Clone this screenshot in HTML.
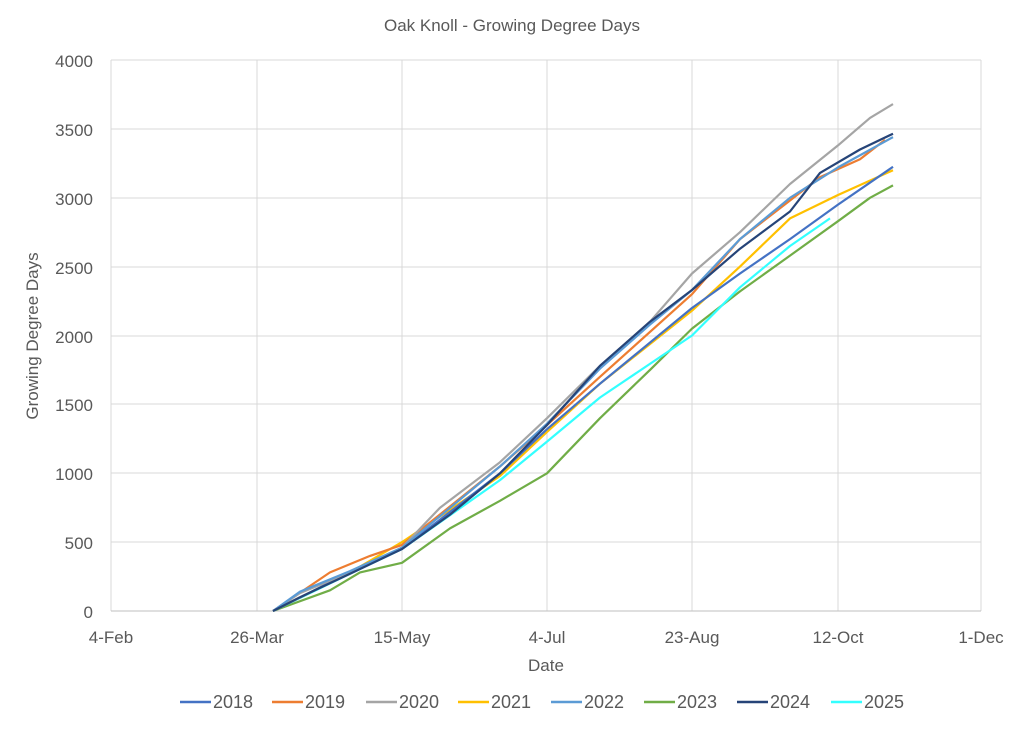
<!DOCTYPE html>
<html><head><meta charset="utf-8"><style>body{margin:0;background:#fff}</style></head>
<body>
<svg width="1024" height="743" xmlns="http://www.w3.org/2000/svg" font-family="Liberation Sans, sans-serif">
<rect width="1024" height="743" fill="#fff"/>
<text x="512" y="31" text-anchor="middle" font-size="17" fill="#595959">Oak Knoll - Growing Degree Days</text>
<g stroke="#d9d9d9" stroke-width="1">
<line x1="111" y1="60" x2="981" y2="60"/><line x1="111" y1="129" x2="981" y2="129"/>
<line x1="111" y1="198" x2="981" y2="198"/><line x1="111" y1="267" x2="981" y2="267"/>
<line x1="111" y1="336" x2="981" y2="336"/><line x1="111" y1="404" x2="981" y2="404"/>
<line x1="111" y1="473" x2="981" y2="473"/><line x1="111" y1="542" x2="981" y2="542"/>
<line x1="111" y1="60" x2="111" y2="611"/><line x1="257" y1="60" x2="257" y2="611"/>
<line x1="402" y1="60" x2="402" y2="611"/><line x1="547" y1="60" x2="547" y2="611"/>
<line x1="692" y1="60" x2="692" y2="611"/><line x1="838" y1="60" x2="838" y2="611"/>
<line x1="981" y1="60" x2="981" y2="611"/>
</g>
<line x1="111" y1="611" x2="981" y2="611" stroke="#bfbfbf"/>
<g font-size="17" fill="#595959" text-anchor="end">
<text x="93" y="67">4000</text><text x="93" y="136">3500</text><text x="93" y="205">3000</text>
<text x="93" y="274">2500</text><text x="93" y="343">2000</text><text x="93" y="411">1500</text>
<text x="93" y="480">1000</text><text x="93" y="549">500</text><text x="93" y="618">0</text>
</g>
<g font-size="17" fill="#595959" text-anchor="middle">
<text x="111" y="643">4-Feb</text><text x="257" y="643">26-Mar</text><text x="402" y="643">15-May</text>
<text x="547" y="643">4-Jul</text><text x="692" y="643">23-Aug</text><text x="838" y="643">12-Oct</text>
<text x="981" y="643">1-Dec</text>
<text x="546" y="671">Date</text>
</g>
<text transform="translate(38,336) rotate(-90)" text-anchor="middle" font-size="17" fill="#595959">Growing Degree Days</text>
<g fill="none" stroke-width="2.2" stroke-linejoin="round">
<polyline stroke="#70ad47" points="273,611 330,590.3 360,572.4 402,562.8 450,528.4 500,500.8 547,473.3 600,418.2 650,369.9 692,328.6 740,291.4 790,255.6 838,221.2 870,197.8 893,185.4"/>
<polyline stroke="#33ffff" points="273,611 350,573.8 402,549 500,480.1 547,441.6 600,397.5 692,335.5 740,287.3 790,246 830,218.4"/>
<polyline stroke="#ffc000" points="273,611 350,572.4 402,542.1 500,476 547,431.9 600,383.7 692,310.7 740,266.6 790,218.4 838,195 893,170.2"/>
<polyline stroke="#4472c4" points="273,611 350,572.4 402,549 500,473.3 547,429.2 600,383.7 692,308 740,273.5 790,239.1 838,204.6 893,166.8"/>
<polyline stroke="#ed7d31" points="273,611 330,572.4 370,555.9 402,544.9 500,466.4 547,425 600,376.8 692,294.2 740,239.1 790,200.5 820,177.1 860,159.2 885,139.9"/>
<polyline stroke="#a5a5a5" points="273,611 300,593.1 350,572.4 402,547.6 440,507.7 500,462.2 547,418.2 600,365.8 650,321.7 692,273.5 740,232.2 790,184 838,145.4 870,117.9 893,104.1"/>
<polyline stroke="#5b9bd5" points="273,611 300,591.7 350,571.1 402,547.6 500,466.4 547,423.7 600,368.6 650,324.5 692,290 740,239.1 790,197.8 838,167.4 893,137.1"/>
<polyline stroke="#264478" points="273,611 300,597.2 350,573.8 402,549 450,514.6 500,473.3 547,425 600,365.8 650,321.7 692,290 740,248.7 790,211.5 820,172.9 860,149.5 893,133.7"/>
</g>
<g font-size="18" fill="#595959" stroke-width="2.5">
<line x1="180" y1="702" x2="211" y2="702" stroke="#4472c4"/><text x="213" y="708">2018</text>
<line x1="272" y1="702" x2="303" y2="702" stroke="#ed7d31"/><text x="305" y="708">2019</text>
<line x1="366" y1="702" x2="397" y2="702" stroke="#a5a5a5"/><text x="399" y="708">2020</text>
<line x1="458" y1="702" x2="489" y2="702" stroke="#ffc000"/><text x="491" y="708">2021</text>
<line x1="551" y1="702" x2="582" y2="702" stroke="#5b9bd5"/><text x="584" y="708">2022</text>
<line x1="644" y1="702" x2="675" y2="702" stroke="#70ad47"/><text x="677" y="708">2023</text>
<line x1="737" y1="702" x2="768" y2="702" stroke="#264478"/><text x="770" y="708">2024</text>
<line x1="831" y1="702" x2="862" y2="702" stroke="#33ffff"/><text x="864" y="708">2025</text>
</g>
</svg>
</body></html>
